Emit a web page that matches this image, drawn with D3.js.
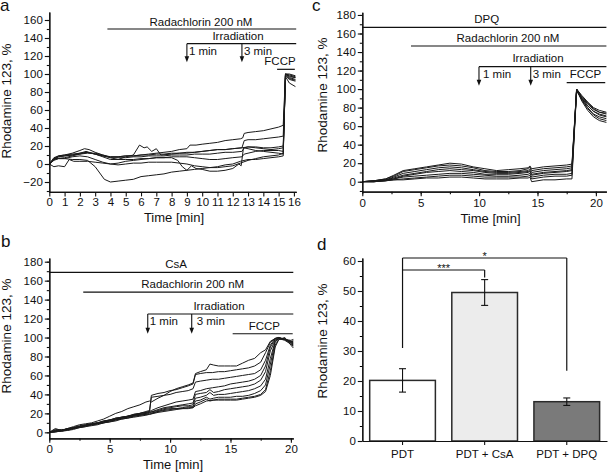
<!DOCTYPE html>
<html><head><meta charset="utf-8">
<script src="https://cdn.jsdelivr.net/npm/d3@7"></script>
<style>
body{margin:0;background:#fff;}
svg text{font-family:"Liberation Sans",Arial,sans-serif;fill:#111;}
</style></head><body>
<svg id="chart" width="610" height="473"></svg>
<script>
// ---------------- DATA ----------------
// Panel a: traces as [time(min), Rhodamine 123 %]
const tracesA = [
 [[0,0],[0.3,5],[0.6,8],[1,9],[1.5,10],[2,12],[2.4,14],[3,11],[3.5,9],[4,8],[4.5,8],[5,9],[5.5,9],[6,10],[6.5,11],[7,12],[7.5,13],[8,14],[8.5,16],[9,17],[9.2,21],[9.6,21],[10,22],[10.5,23],[11,24],[11.5,26],[12,27],[12.5,28],[12.65,29],[12.75,34],[13,35],[13.5,36],[14,37],[14.5,39],[15,41],[15.3,43],[15.45,100],[15.7,98],[16.1,96]],
 [[0,0],[0.3,6],[0.6,9],[1,10],[1.5,12],[2,15],[2.3,17],[2.6,16],[3,13],[3.5,10],[4,8],[4.5,8],[5,9],[5.5,9],[6,10],[6.5,10],[7,11],[7.5,11],[8,12],[8.5,12],[9,13],[9.5,13],[10,14],[10.5,15],[11,16],[11.5,16],[12,17],[12.6,18],[12.75,26],[13,27],[13.5,27],[14,28],[14.5,29],[15,30],[15.3,31],[15.45,100],[15.7,100],[16.1,98]],
 [[0,0],[0.4,6],[1,7],[1.5,9],[2,11],[2.4,13],[3,11],[3.5,8],[4,5],[4.5,5],[5,8],[5.5,10],[5.9,21],[6.2,18],[6.4,19],[6.7,14],[7,17],[7.3,10],[8,11],[8.5,12],[9,12],[9.5,13],[10,14],[10.5,15],[11,16],[11.5,16],[12,17],[12.6,18],[13,19],[13.5,18],[14,17],[14.5,16],[15,17],[15.3,18],[15.45,97],[15.7,90],[16.1,86]],
 [[0,0],[0.3,5],[0.6,6],[1,6],[1.5,5],[2,5],[2.5,4],[3,-3],[3.3,-10],[3.6,-17],[4,-20],[4.5,-19],[5,-18],[5.5,-17],[6,-14],[6.5,-13],[7,-12],[7.5,-11],[8,-9],[8.5,-8],[9,-7],[9.5,-6],[10,-5],[10.5,-4],[11,-3],[11.5,-1],[12,0],[12.5,3],[13,5],[13.5,5],[14,6],[14.5,7],[15,8],[15.3,9],[15.45,99],[15.7,95],[16.1,93]],
 [[0,0],[0.3,-3],[0.6,-2],[1,-3],[1.3,5],[1.6,3],[2,3],[2.5,3],[3,2],[3.5,1],[4,0],[4.5,1],[5,3],[5.5,4],[6,5],[6.5,6],[7,7],[7.5,7],[8,7],[8.4,4],[8.7,-3],[9,-7],[9.3,-2],[9.6,-5],[10,-6],[10.5,-8],[11,-8],[11.5,-7],[12,-5],[12.4,0],[12.55,-2],[12.7,18],[13,17],[13.5,15],[14,14],[14.5,13],[15,12],[15.3,11],[15.45,100],[15.7,97],[16.1,96]],
 [[0,0],[0.3,4],[0.6,6],[1,6],[1.5,8],[2,9],[2.5,8],[3,5],[3.5,2],[4,0],[4.5,-1],[5,0],[5.5,1],[6,1],[6.5,2],[7,2],[7.5,2],[8,2],[8.5,1],[9,0],[9.5,-2],[10,-3],[10.5,-4],[11,-4],[11.5,-3],[12,-2],[12.5,1],[13,4],[13.5,6],[14,8],[14.5,9],[15,10],[15.3,12],[15.45,98],[15.7,94],[16.1,92]],
 [[0,0],[0.3,7],[0.6,9],[1,10],[1.5,11],[2,12],[2.5,13],[3,11],[3.5,9],[4,7],[4.5,7],[5,7],[5.5,8],[6,8],[6.5,9],[7,9],[7.5,9],[8,10],[8.5,10],[9,10],[9.5,11],[10,11],[10.5,11],[11,12],[11.5,13],[12,13],[12.6,14],[12.75,18],[13,19],[13.5,19],[14,18],[14.5,18],[15,19],[15.3,20],[15.45,100],[15.7,99],[16.1,97]],
 [[0,0],[0.3,6],[0.6,8],[1,9],[1.5,10],[2,11],[2.5,12],[3,12],[3.5,10],[4,7],[4.5,5],[5,5],[5.5,5],[6,6],[6.5,6],[7,7],[7.5,7],[8,8],[8.5,8],[9,8],[9.5,7],[10,6],[10.5,5],[11,5],[11.5,6],[12,7],[12.6,8],[12.75,11],[13,12],[13.5,14],[14,15],[14.5,15],[15,15],[15.3,14],[15.45,100],[15.7,96],[16.1,94]]
];

// Panel b (CsA)
const tracesB = [
 [[0,0],[0.5,4],[1,2],[1.5,4],[2,6],[2.5,8],[3,9],[3.5,10],[4,12],[4.5,14],[5,17],[5.5,20],[6,22],[6.5,25],[7,27],[7.5,29],[8,32],[8.3,33],[8.45,32],[9,36],[9.5,39],[10,43],[10.5,46],[11,48],[11.5,50],[11.9,52],[12.1,62],[12.5,64],[13,66],[13.3,72],[13.6,71],[14,70],[14.5,70],[15,70],[15.5,70],[16,73],[16.5,76],[17,78],[17.5,84],[17.9,87],[18.3,96],[18.7,99],[19,100],[19.5,98],[20,97],[20.2,98]],
 [[0,0],[0.5,3],[1,2],[1.5,3],[2,5],[2.5,6],[3,7],[3.5,8],[4,10],[4.5,11],[5,13],[5.5,14],[6,16],[6.5,17],[7,19],[7.5,20],[8,21],[8.3,22],[8.45,39],[9,41],[9.5,42],[10,44],[10.5,45],[11,47],[11.5,49],[11.9,51],[12.1,61],[12.5,62],[13,63],[13.5,63],[14,64],[14.5,64],[15,65],[15.5,66],[16,67],[16.5,68],[17,70],[17.5,74],[17.9,84],[18.3,95],[18.7,99],[19,100],[19.5,98],[20,96],[20.2,95]],
 [[0,0],[0.5,1],[1,2],[1.5,4],[2,5],[2.5,7],[3,8],[3.5,9],[4,10],[4.5,12],[5,13],[5.5,15],[6,16],[6.5,17],[7,18],[7.5,20],[8,22],[8.3,23],[8.45,37],[9,38],[9.5,39],[10,40],[10.5,42],[11,43],[11.5,44],[11.9,46],[12.1,53],[12.5,54],[13,55],[13.5,56],[14,56],[14.5,57],[15,58],[15.5,59],[16,60],[16.5,61],[17,62],[17.5,66],[17.9,76],[18.3,92],[18.7,99],[19,100],[19.5,98],[20,95],[20.2,93]],
 [[0,0],[0.5,2],[1,3],[1.5,3],[2,5],[2.5,6],[3,8],[3.5,9],[4,10],[4.5,11],[5,13],[5.5,15],[6,16],[6.5,17],[7,19],[7.5,20],[8,21],[8.3,22],[8.45,23],[9,26],[9.5,28],[10,30],[10.5,32],[11,33],[11.5,34],[11.9,35],[12.1,43],[12.5,44],[13,46],[13.5,47],[14,48],[14.5,49],[15,51],[15.5,52],[16,53],[16.5,54],[17,56],[17.5,60],[17.9,70],[18.3,90],[18.7,98],[19,99],[19.5,97],[20,93],[20.2,91]],
 [[0,0],[0.5,1],[1,2],[1.5,4],[2,4],[2.5,6],[3,7],[3.5,9],[4,10],[4.5,12],[5,13],[5.5,14],[6,15],[6.5,17],[7,18],[7.5,19],[8,20],[8.3,21],[9,24],[9.5,26],[10,27],[10.5,28],[11,29],[11.5,30],[11.9,31],[12.1,40],[12.5,41],[13,42],[13.3,45],[13.6,42],[14,43],[14.5,45],[15,46],[15.5,47],[16,48],[16.5,49],[17,51],[17.5,55],[17.9,64],[18.3,86],[18.7,97],[19,99],[19.5,98],[20,96],[20.2,94]],
 [[0,0],[0.5,2],[1,1],[1.5,3],[2,5],[2.5,5],[3,7],[3.5,8],[4,9],[4.5,11],[5,12],[5.5,14],[6,15],[6.5,16],[7,18],[7.5,19],[8,20],[8.3,21],[9,23],[9.5,25],[10,26],[10.5,27],[11,28],[11.5,28],[11.9,29],[12.1,36],[12.5,37],[13,39],[13.3,42],[13.6,39],[14,40],[14.5,40],[15,41],[15.5,42],[16,43],[16.5,44],[17,46],[17.5,49],[17.9,56],[18.3,78],[18.7,96],[19,99],[19.5,98],[20,95],[20.2,96]],
 [[0,0],[0.5,1],[1,2],[1.5,3],[2,4],[2.5,6],[3,7],[3.5,8],[4,9],[4.5,10],[5,12],[5.5,13],[6,15],[6.5,16],[7,17],[7.5,18],[8,19],[8.3,20],[9,22],[9.5,24],[10,25],[10.5,25],[11,26],[11.5,27],[11.9,27],[12.1,33],[12.5,34],[13,37],[13.3,35],[13.6,36],[14,37],[14.5,37],[15,37],[15.5,38],[16,38],[16.5,39],[17,41],[17.5,44],[17.9,50],[18.3,72],[18.7,95],[19,99],[19.5,98],[20,94],[20.2,92]],
 [[0,0],[0.5,0],[1,2],[1.5,2],[2,4],[2.5,5],[3,6],[3.5,8],[4,9],[4.5,10],[5,11],[5.5,13],[6,14],[6.5,15],[7,17],[7.5,18],[8,19],[8.3,19],[9,22],[9.5,23],[10,24],[10.5,25],[11,25],[11.5,26],[11.9,26],[12.1,30],[12.5,32],[13,35],[13.3,33],[13.6,34],[14,35],[14.5,35],[15,35],[15.5,35],[16,36],[16.5,37],[17,38],[17.5,40],[17.9,45],[18.3,65],[18.7,92],[19,98],[19.5,99],[20,95],[20.2,97]],
 [[0,0],[0.5,1],[1,1],[1.5,2],[2,3],[2.5,5],[3,6],[3.5,7],[4,8],[4.5,10],[5,11],[5.5,12],[6,14],[6.5,15],[7,16],[7.5,17],[8,18],[8.3,19],[9,21],[9.5,22],[10,23],[10.5,24],[11,25],[11.5,25],[11.9,26],[12.1,28],[12.5,30],[13,33],[13.5,34],[14,34],[14.5,34],[15,34],[15.5,34],[16,35],[16.5,36],[17,37],[17.5,39],[17.9,43],[18.3,60],[18.7,90],[19,98],[19.5,100],[20,92],[20.2,89]]
];

// Panel c (DPQ): shared time grid
const timeC = [0,1,2,2.7,3.5,4.5,5.5,6.5,7.5,8.5,9.5,10.5,11.5,12.5,13.5,14.2,14.35,14.5,15.5,16.5,17.5,17.95,18.35,18.8,19.3,19.8,20.3,20.9];
const valuesC = [
 [0,1,3,7,12,14,16,18,20,19,16,14,12,13,14,15,17,14,16,17,18,19,100,93,86,80,77,75],
 [0,1,3,6,11,13,15,17,18,17,15,12,11,11,12,14,16,12,14,15,16,17,99,91,84,78,75,73],
 [0,1,2,5,9,11,13,15,16,15,13,11,10,10,11,12,14,10,12,13,14,15,100,90,82,76,73,71],
 [0,1,2,4,7,9,11,13,14,13,12,10,9,9,10,11,12,8,10,11,12,13,100,92,85,79,75,74],
 [0,0,2,3,6,8,10,11,12,11,10,8,8,8,9,10,11,7,9,10,11,12,98,89,80,73,70,68],
 [0,0,1,3,5,6,7,8,9,9,8,7,6,6,7,8,9,5,7,8,8,9,100,88,79,72,68,66],
 [0,0,1,2,3,4,5,6,7,7,6,5,5,5,5,6,7,3,5,6,6,7,99,87,77,70,66,64],
 [0,0,1,2,2,3,4,4,5,5,4,3,3,3,4,4,5,0,2,2,3,3,98,90,82,76,72,70]
];

// Panel d
const categoriesD = ["PDT", "PDT + CsA", "PDT + DPQ"];
const meansD = [20.2, 49.5, 13.1];
const errorsD = [3.9, 4.3, 1.25];

// tick values
const ticksA_x = d3.range(0, 17, 1);
const ticksA_y = d3.range(-20, 161, 20);
const ticksBC_x = [0, 5, 10, 15, 20];
const ticksBC_y = d3.range(0, 181, 20);
const ticksD_y = [0, 10, 20, 30, 40, 50, 60];

// ---------------- DRAWING ----------------
const svg = d3.select("#chart");
const FONT_TICK = "11.5px";
const INK = "#111";

function drawAxes(x, y, opt) {
  const g = svg.append("g");
  const yAxisX = x.range()[0], xAxisY = y.range()[0];
  g.append("g").attr("transform", `translate(0,${xAxisY})`)
    .call(d3.axisBottom(x).tickValues(opt.xMinor).tickSize(2.5).tickFormat("").tickSizeOuter(0));
  g.append("g").attr("transform", `translate(${yAxisX},0)`)
    .call(d3.axisLeft(y).tickValues(opt.yMinor).tickSize(2.5).tickFormat("").tickSizeOuter(0));
  g.append("g").attr("transform", `translate(0,${xAxisY})`)
    .call(d3.axisBottom(x).tickValues(opt.xTicks).tickSize(4.5).tickPadding(opt.xPad).tickSizeOuter(0).tickFormat(d3.format("d")));
  g.append("g").attr("transform", `translate(${yAxisX},0)`)
    .call(d3.axisLeft(y).tickValues(opt.yTicks).tickSize(4.5).tickPadding(2).tickSizeOuter(0).tickFormat(d3.format("d")));
  g.selectAll("path.domain").attr("stroke", INK).attr("stroke-width", 1.2);
  g.selectAll(".tick line").attr("stroke", INK).attr("stroke-width", 1.1);
  g.selectAll(".tick text").attr("font-size", FONT_TICK).attr("fill", INK)
    .attr("font-family", '"Liberation Sans", Arial, sans-serif');
  return g;
}

function drawTraces(x, y, traces) {
  const line = d3.line().x(d => x(d[0])).y(d => y(d[1]));
  svg.append("g").selectAll("path").data(traces).join("path")
    .attr("d", line).attr("fill", "none").attr("stroke", "#1a1a1a")
    .attr("stroke-width", 1).attr("stroke-linejoin", "round");
}

function hline(x1, x2, yy) {
  svg.append("line").attr("x1", x1).attr("x2", x2).attr("y1", yy).attr("y2", yy)
    .attr("stroke", INK).attr("stroke-width", 1.2);
}
function arrow(xx, y1, y2) {
  svg.append("line").attr("x1", xx).attr("x2", xx).attr("y1", y1).attr("y2", y2 - 4)
    .attr("stroke", INK).attr("stroke-width", 1.1);
  svg.append("path").attr("d", `M${xx-2.3},${y2-6} L${xx+2.3},${y2-6} L${xx},${y2} Z`).attr("fill", INK);
}
function label(txt, xx, yy, anchor, size) {
  svg.append("text").attr("x", xx).attr("y", yy).attr("text-anchor", anchor || "middle")
    .attr("font-size", size || FONT_TICK).text(txt);
}
function yTitle(xx, yy) {
  svg.append("text").attr("transform", `translate(${xx},${yy}) rotate(-90)`)
    .attr("text-anchor", "middle").attr("font-size", "13.5px").text("Rhodamine 123, %");
}
function xTitle(xx, yy) {
  svg.append("text").attr("x", xx).attr("y", yy).attr("text-anchor", "middle")
    .attr("font-size", "13px").text("Time [min]");
}
function panelLetter(t, xx, yy) {
  svg.append("text").attr("x", xx).attr("y", yy).attr("font-size", "17px").text(t);
}

// ---- Panel a ----
{
  const x = d3.scaleLinear().domain([0, 16.15]).range([49.3, 296.2]);
  const y = d3.scaleLinear().domain([-31, 169]).range([191.9, 11.9]);
  drawTraces(x, y, tracesA);
  drawAxes(x, y, {xTicks: ticksA_x, xMinor: [], yTicks: ticksA_y, yMinor: d3.range(-30, 170, 10), xPad: 1.5});
  const xr = x.range()[1];
  hline(x(3.8), xr, y(150)); label("Radachlorin 200 nM", 201, y(150) - 3.5);
  hline(x(9.0), xr, y(133.7)); label("Irradiation", 238, y(133.7) - 3.5);
  arrow(x(9.0), y(133.7), y(113)); arrow(x(12.6), y(133.7), y(113));
  label("1 min", x(9.0) + 2, 55, "start"); label("3 min", x(12.6) + 2, 55, "start");
  hline(x(14.9), x(16.06), y(105.2)); label("FCCP", 280, y(105.2) - 4);
  yTitle(11, 101); xTitle(174, 221.5);
  panelLetter("a", 0, 11);
}

// ---- Panel b ----
{
  const x = d3.scaleLinear().domain([0, 20.2]).range([49.3, 293.3]);
  const y = d3.scaleLinear().domain([-6.3, 184]).range([438.3, 257.9]);
  drawTraces(x, y, tracesB);
  drawAxes(x, y, {xTicks: ticksBC_x, xMinor: d3.range(0, 20.1, 2.5), yTicks: ticksBC_y, yMinor: d3.range(0, 181, 10), xPad: 2.5});
  const xr = x.range()[1];
  hline(x(0), xr, y(168.8)); label("CsA", 176, y(168.8) - 4);
  hline(x(2.81), xr, y(148)); label("Radachlorin 200 nM", 192.7, y(148) - 4);
  hline(x(8.15), xr, y(124.8)); label("Irradiation", 219, y(124.8) - 4);
  arrow(x(8.15), y(124.8), y(104)); arrow(x(11.79), y(124.8), y(104));
  label("1 min", x(8.15) + 2, 325, "start"); label("3 min", x(11.79) + 5, 325, "start");
  hline(x(15.18), x(20.15), y(104)); label("FCCP", 264.3, y(104) - 4);
  yTitle(11, 336); xTitle(173, 468.5);
  panelLetter("b", 1, 247);
}

// ---- Panel c ----
{
  const x = d3.scaleLinear().domain([0, 20.9]).range([362.3, 606.4]);
  const y = d3.scaleLinear().domain([-10.8, 183]).range([191.7, 12.2]);
  const tracesC = valuesC.map(vals => vals.map((v, i) => [timeC[i], v]));
  drawTraces(x, y, tracesC);
  drawAxes(x, y, {xTicks: ticksBC_x, xMinor: d3.range(0, 20.9, 2.5), yTicks: ticksBC_y, yMinor: d3.range(-10, 181, 10), xPad: 3});
  const xr = x.range()[1];
  hline(x(0), xr, y(166.7)); label("DPQ", 486.7, y(166.7) - 4.5);
  hline(x(4.17), xr, y(146.5)); label("Radachlorin 200 nM", 508, y(146.5) - 4.5);
  hline(x(9.99), xr, y(124.2)); label("Irradiation", 538, y(124.2) - 4.5);
  arrow(x(9.99), y(124.2), y(103.7)); arrow(x(14.42), y(124.2), y(103.7));
  label("1 min", x(9.99) + 4, 78.3, "start"); label("3 min", x(14.42) + 2, 78.3, "start");
  hline(x(17.5), x(20.8), y(106.9)); label("FCCP", 585.5, y(106.9) - 4.5);
  yTitle(327, 95); xTitle(490.5, 222.5);
  panelLetter("c", 312, 11);
}

// ---- Panel d ----
{
  const x = d3.scaleBand().domain(categoriesD).range([362.3, 607]).paddingInner(0.2).paddingOuter(0.09);
  const y = d3.scaleLinear().domain([0, 61]).range([441, 258]);
  const fills = ["#ffffff", "#ececec", "#7a7a7a"];
  const g = svg.append("g");
  g.selectAll("rect").data(categoriesD).join("rect")
    .attr("x", d => x(d)).attr("width", x.bandwidth())
    .attr("y", (d, i) => y(meansD[i])).attr("height", (d, i) => y(0) - y(meansD[i]))
    .attr("fill", (d, i) => fills[i]).attr("stroke", "#2a2a2a").attr("stroke-width", 1.5);
  const cx = d => x(d) + x.bandwidth() / 2;
  categoriesD.forEach((c, i) => {
    const lo = y(meansD[i] - errorsD[i]), hi = y(meansD[i] + errorsD[i]);
    g.append("line").attr("x1", cx(c)).attr("x2", cx(c)).attr("y1", lo).attr("y2", hi).attr("stroke", INK).attr("stroke-width", 1.1);
    [lo, hi].forEach(yy => g.append("line").attr("x1", cx(c) - 3.5).attr("x2", cx(c) + 3.5).attr("y1", yy).attr("y2", yy).attr("stroke", INK).attr("stroke-width", 1.1));
  });
  const gx = svg.append("g").attr("transform", `translate(0,${y(0)})`)
    .call(d3.axisBottom(x).tickSize(4).tickPadding(5).tickSizeOuter(0));
  svg.append("g").attr("transform", `translate(362.3,0)`)
    .call(d3.axisLeft(y).tickValues(d3.range(5, 61, 10)).tickSize(2.5).tickFormat("").tickSizeOuter(0));
  const gy = svg.append("g").attr("transform", `translate(362.3,0)`)
    .call(d3.axisLeft(y).tickValues(ticksD_y).tickSize(4.5).tickPadding(2).tickSizeOuter(0));
  svg.selectAll("path.domain").attr("stroke", INK).attr("stroke-width", 1.2);
  [gx, gy].forEach(a => {
    a.selectAll(".tick line").attr("stroke", INK).attr("stroke-width", 1.1);
    a.selectAll(".tick text").attr("font-size", FONT_TICK).attr("fill", INK)
      .attr("font-family", '"Liberation Sans", Arial, sans-serif');
  });
  const b = (x1, y1, x2, y2) => svg.append("line").attr("x1", x1).attr("y1", y1).attr("x2", x2).attr("y2", y2).attr("stroke", INK).attr("stroke-width", 1.2);
  const p = cx("PDT"), c2 = cx("PDT + CsA"), c3 = cx("PDT + DPQ");
  b(p, y(31), p, y(61)); b(p, y(61), c3, y(61)); b(c3, y(61), c3, y(23.4));
  b(p, y(57), c2, y(57)); b(c2, y(57), c2, y(54.5));
  label("***", (p + c2) / 2, y(57) + 1.5, "middle", "11px");
  label("*", (p + c3) / 2, y(61) + 1.5, "middle", "11px");
  yTitle(327, 341);
  panelLetter("d", 317, 250);
}
</script>
</body></html>
